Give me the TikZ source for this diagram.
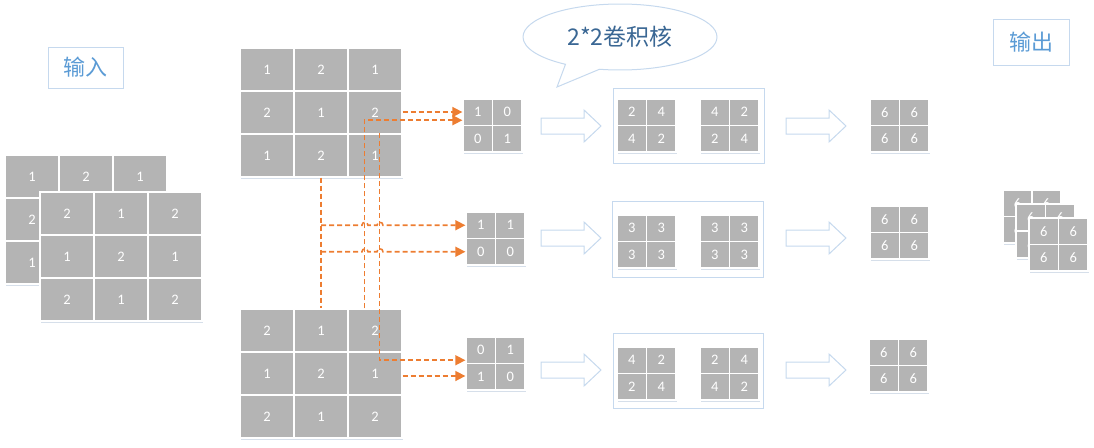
\documentclass[tikz,border=0pt]{standalone}
\usepackage{fontspec}
\setmainfont{Carlito}
\newfontfamily\cjkfont{Noto Sans CJK SC}
\usetikzlibrary{arrows.meta,calc,shapes.callouts}

\definecolor{cellgray}{HTML}{B4B4B4}
\definecolor{shadowc}{HTML}{D6DFEA}
\definecolor{flowc}{HTML}{ED7D31}
\definecolor{frameblue}{HTML}{C6D9EE}
\definecolor{labelblue}{HTML}{5B9BD5}
\definecolor{bubbletext}{HTML}{3A6794}

\tikzset{
  cell/.style={fill=cellgray, draw=white, line width=1.3pt, text=white, inner sep=0pt,
    font=\fontsize{14.5}{16}\selectfont},
  link/.style={draw=flowc, line width=1.6pt, dash pattern=on 5pt off 3pt},
  flow/.style={link, -{Triangle[length=10pt,width=10pt]}},
  frame/.style={draw=frameblue, line width=1pt, fill=white, inner sep=0pt},
  tag/.style={draw=frameblue, line width=1pt, text=labelblue, inner sep=0pt,
    font=\cjkfont\fontsize{22}{24}\selectfont},
  bubble/.style={ellipse callout, draw=frameblue, line width=1pt, fill=white,
    callout pointer arc=22, minimum width=194pt, minimum height=66pt, inner sep=0pt,
    text=bubbletext, font=\cjkfont\fontsize{23}{26}\selectfont},
  fat/.style={draw=frameblue, line width=1pt, fill=white, line join=miter}
}

% grid of cells: name, left, top, columns, rows, cell width, cell height, values
\newcommand{\cellgrid}[8]{%
  \fill[shadowc] (#2+1,#3+2) rectangle ++(#4*#6,#5*#7);
  \foreach \v [count=\k from 0] in {#8} {
    \pgfmathtruncatemacro{\rowi}{div(\k,#4)}
    \pgfmathtruncatemacro{\coli}{mod(\k,#4)}
    \node[cell, minimum width=#6pt, minimum height=#7pt] (#1-\rowi-\coli)
      at ({#2+(\coli+0.5)*#6},{#3+(\rowi+0.5)*#7}) {\v};
  }
}

% hollow block arrow: tail x, middle y
\newcommand{\fatarrow}[2]{%
  \draw[fat] (#1,#2-8) -- ++(43,0) -- ++(0,-8) -- ++(17,16) -- ++(-17,16)
    -- ++(0,-8) -- ++(-43,0) -- cycle;
}

\begin{document}
\begin{tikzpicture}[x=1pt,y=-1pt]
	\useasboundingbox (0,0) rectangle (1094,447);

	% labels
	\node[tag, minimum width=75pt, minimum height=41pt] (inlabel) at (85.5,67.5) {输入};
	\node[tag, minimum width=76pt, minimum height=46pt] (outlabel) at (1031,42) {输出};
	\node[bubble, callout absolute pointer={(557,87)}] (kernelnote) at (620,37) {2*2卷积核};

	% input stack
	\cellgrid{inb}{5}{155}{3}{3}{54}{43}{1,2,1,2,{},{},1,{},{}}
	\cellgrid{inf}{40}{192}{3}{3}{54}{43}{2,1,2,1,2,1,2,1,2}

	% the two channels
	\cellgrid{top}{240}{48}{3}{3}{54}{43}{1,2,1,2,1,2,1,2,1}
	\cellgrid{bot}{240}{309}{3}{3}{54}{43}{2,1,2,1,2,1,2,1,2}

	% kernels
	\cellgrid{k1}{463}{99}{2}{2}{29.5}{26.5}{1,0,0,1}
	\cellgrid{k2}{466}{212}{2}{2}{29.5}{26.5}{1,1,0,0}
	\cellgrid{k3}{466}{337}{2}{2}{29.5}{26.5}{0,1,1,0}

	% dashed connections
	\draw[flow] ($(top-1-2.east)+(0,-0.5)$) -- ($(top-1-2.east -| k1-0-0.west)+(0,-0.5)$);
	\draw[flow] ($(bot-0-2.north west)+(17,0)$) |- ($(k1-0-0.west)+(0,8)$);
	\draw[link] (top-2-1.south) -- (bot-0-1.north);
	\draw[flow] (k2-0-0.west -| top-2-1.south) -- ++(41,0)
		arc[start angle=180,end angle=360,radius=3] -- ++(9,0)
		arc[start angle=180,end angle=360,radius=3] -- (k2-0-0.west);
	\draw[flow] (k2-1-0.west -| top-2-1.south) -- ++(41,0)
		arc[start angle=180,end angle=360,radius=3] -- ++(9,0)
		arc[start angle=180,end angle=360,radius=3] -- (k2-1-0.west);
	\draw[flow] ($(top-2-2.north west)+(32,0)$) |- ($(k3-0-0.west)+(0,10)$);
	\draw[flow] ($(bot-1-2.east)+(0,2.5)$) -- ($(bot-1-2.east -| k3-0-0.west)+(0,2.5)$);

	% block arrows
	\fatarrow{541}{126}
	\fatarrow{541}{238}
	\fatarrow{541}{370}
	\fatarrow{786}{126}
	\fatarrow{786}{238}
	\fatarrow{786}{370}

	% products per channel
	\node[frame, minimum width=151pt, minimum height=75pt] (conv1) at (688.5,125.5) {};
	\node[frame, minimum width=151pt, minimum height=76pt] (conv2) at (687.5,239) {};
	\node[frame, minimum width=150pt, minimum height=75pt] (conv3) at (688,370.5) {};
	\cellgrid{p1a}{617}{99}{2}{2}{29.5}{26.5}{2,4,4,2}
	\cellgrid{p1b}{700}{99}{2}{2}{29.5}{26.5}{4,2,2,4}
	\cellgrid{p2a}{617}{215}{2}{2}{29.5}{26.5}{3,3,3,3}
	\cellgrid{p2b}{700}{215}{2}{2}{29.5}{26.5}{3,3,3,3}
	\cellgrid{p3a}{617}{347}{2}{2}{29.5}{26.5}{4,2,2,4}
	\cellgrid{p3b}{700}{347}{2}{2}{29.5}{26.5}{2,4,4,2}

	% outputs
	\cellgrid{o1}{870}{99}{2}{2}{29.5}{26.5}{6,6,6,6}
	\cellgrid{o2}{870}{206}{2}{2}{29.5}{26.5}{6,6,6,6}
	\cellgrid{o3}{869}{339}{2}{2}{29.5}{26.5}{6,6,6,6}

	% output stack
	\cellgrid{s1}{1003}{190}{2}{2}{29}{26.5}{6,6,6,{}}
	\cellgrid{s2}{1016}{204}{2}{2}{29.5}{27}{6,6,6,{}}
	\cellgrid{s3}{1029}{218}{2}{2}{29.5}{26.5}{6,6,6,6}

\end{tikzpicture}
\end{document}
